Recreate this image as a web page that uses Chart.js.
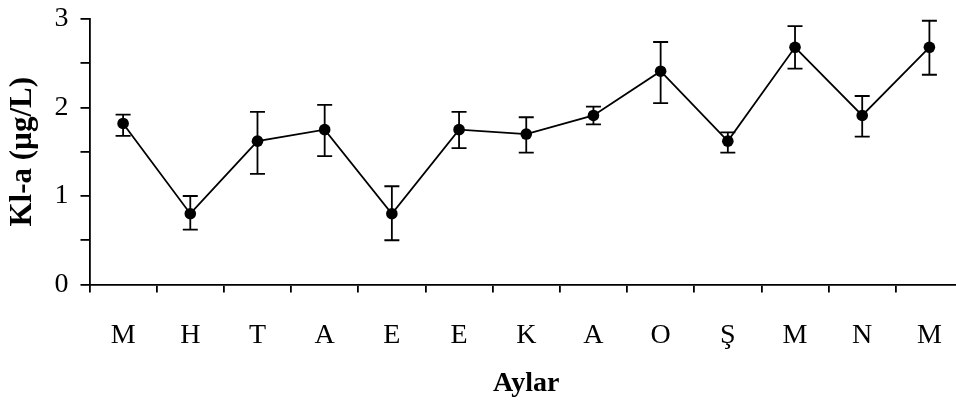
<!DOCTYPE html>
<html>
<head>
<meta charset="utf-8">
<script src="https://cdn.jsdelivr.net/npm/chart.js@4/dist/chart.umd.min.js"></script>
<style>
  html, body { margin: 0; padding: 0; background: #fff; overflow: hidden; }
  #wrap { position: absolute; left: 0; top: 0; width: 975px; height: 403px; }
</style>
</head>
<body>
<div id="wrap"><canvas id="c"></canvas></div>
<script>
// Monthly chlorophyll-a means with error-bar limits
const months = ['M', 'H', 'T', 'A', 'E', 'E', 'K', 'A', 'O', 'Ş', 'M', 'N', 'M'];
const klA    = [1.82, 0.80, 1.62, 1.75, 0.80, 1.75, 1.70, 1.91, 2.41, 1.62, 2.68, 1.91, 2.68];
const klLow  = [1.68, 0.62, 1.25, 1.45, 0.50, 1.54, 1.49, 1.81, 2.05, 1.49, 2.44, 1.67, 2.37];
const klHigh = [1.92, 1.00, 1.95, 2.03, 1.11, 1.95, 1.89, 2.01, 2.74, 1.72, 2.92, 2.13, 2.98];
const yTicks = [0, 1, 2, 3];

const serif = "'Liberation Serif', 'Times New Roman', serif";

// Vertical error bars with caps, drawn under the markers
const errorBars = {
  id: 'errorBars',
  beforeDatasetsDraw(chart) {
    const ctx = chart.ctx;
    const x = chart.scales.x, y = chart.scales.y;
    ctx.save();
    ctx.strokeStyle = '#000';
    ctx.lineWidth = 1.8;
    const cap = 7.5;
    months.forEach((m, i) => {
      const px = x.getPixelForValue(i);
      const yl = y.getPixelForValue(klLow[i]);
      const yh = y.getPixelForValue(klHigh[i]);
      ctx.beginPath();
      ctx.moveTo(px, yl); ctx.lineTo(px, yh);
      ctx.moveTo(px - cap, yh); ctx.lineTo(px + cap, yh);
      ctx.moveTo(px - cap, yl); ctx.lineTo(px + cap, yl);
      ctx.stroke();
    });
    ctx.restore();
  }
};

new Chart(document.getElementById('c'), {
  type: 'line',
  data: {
    labels: months,
    datasets: [{
      data: klA,
      borderColor: '#000',
      borderWidth: 1.8,
      backgroundColor: '#000',
      pointBackgroundColor: '#000',
      pointBorderColor: '#000',
      pointRadius: 5.8,
      pointBorderWidth: 0,
      tension: 0,
      fill: false
    }]
  },
  options: {
    responsive: true,
    maintainAspectRatio: false,
    animation: false,
    layout: { padding: { left: 0, top: 19, right: 12, bottom: 0 } },
    plugins: { legend: { display: false }, tooltip: { enabled: false } },
    scales: {
      x: {
        type: 'category',
        offset: true,
        grid: { display: true, offset: true, drawOnChartArea: false, drawTicks: true, tickLength: 8, color: '#000', lineWidth: 1.8 },
        border: { display: true, color: '#000', width: 1.8 },
        ticks: { color: '#000', font: { family: serif, size: 28 }, padding: 26, maxRotation: 0, autoSkip: false },
        title: { display: true, text: 'Aylar', color: '#000', font: { family: serif, size: 28, weight: 'bold' }, padding: { top: 0, bottom: 2 } },
        afterFit(scale) { scale.height = 118.5; scale.paddingLeft = 0; scale.paddingRight = 0; }
      },
      y: {
        min: 0,
        max: 3,
        grid: { display: true, drawOnChartArea: false, drawTicks: true, tickLength: 9, color: '#000', lineWidth: 1.8 },
        border: { display: true, color: '#000', width: 1.8 },
        ticks: {
          stepSize: 0.5,
          color: '#000',
          padding: 12,
          font: { family: serif, size: 28 },
          callback: (v) => (yTicks.includes(v) ? String(v) : '')
        },
        title: { display: true, text: 'Kl-a (µg/L)', color: '#000', font: { family: serif, size: 31, weight: 'bold' }, padding: { top: 4, bottom: 0 } },
        afterFit(scale) { scale.width = 89.5; scale.paddingTop = 0; scale.paddingBottom = 0; }
      }
    }
  },
  plugins: [errorBars]
});
</script>
</body>
</html>
